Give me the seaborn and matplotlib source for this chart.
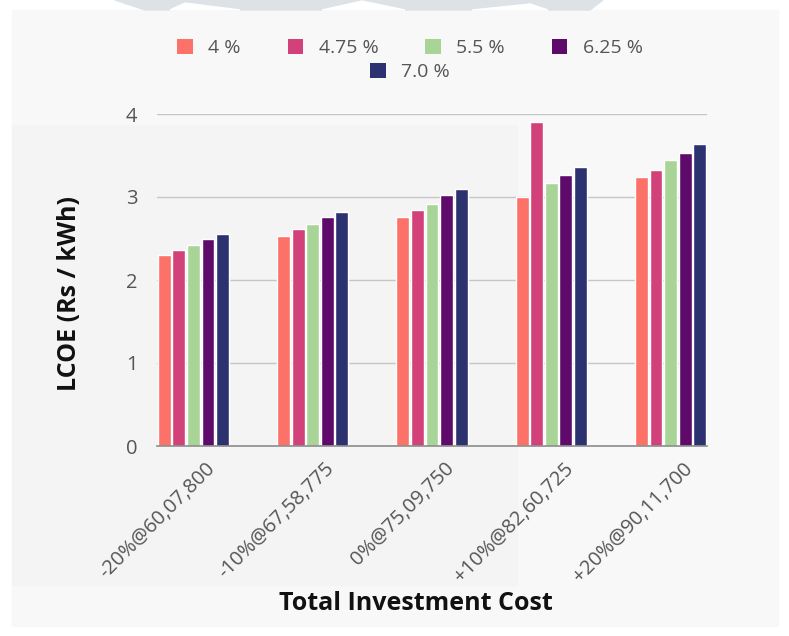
import numpy as np
import pandas as pd
import matplotlib
matplotlib.use("Agg")
import matplotlib.pyplot as plt
import matplotlib.transforms as mtransforms
from matplotlib.patches import Patch, Rectangle, Polygon
import seaborn as sns

# Investment-cost scenarios and the discount rates compared in each
categories = ["-20%@60,07,800", "-10%@67,58,775", "0%@75,09,750",
              "+10%@82,60,725", "+20%@90,11,700"]
rates = ["4 %", "4.75 %", "5.5 %", "6.25 %", "7.0 %"]

# LCOE (Rs / kWh) per scenario for each discount rate
lcoe_4_00 = [2.30, 2.53, 2.76, 3.00, 3.24]
lcoe_4_75 = [2.36, 2.61, 2.84, 3.90, 3.33]
lcoe_5_50 = [2.42, 2.68, 2.92, 3.17, 3.44]
lcoe_6_25 = [2.49, 2.76, 3.02, 3.27, 3.53]
lcoe_7_00 = [2.56, 2.82, 3.10, 3.36, 3.64]

y_ticks = [0, 1, 2, 3, 4]

colors = ["#FC7269", "#D2417A", "#A8D597", "#5E0A6B", "#2C3170"]

series = [lcoe_4_00, lcoe_4_75, lcoe_5_50, lcoe_6_25, lcoe_7_00]
df = pd.DataFrame({
    "scenario": np.tile(categories, len(rates)),
    "rate": np.repeat(rates, len(categories)),
    "lcoe": np.concatenate(series),
})

sns.set_theme(style="white")
plt.rcParams["font.family"] = ["Open Sans", "DejaVu Sans"]

W, H = 789, 636
fig = plt.figure(figsize=(W / 100, H / 100), dpi=100, facecolor="white")


def fig_xy(points):
    return [(x / W, 1 - y / H) for x, y in points]


# card background, shaded inner panel and the strip along the top edge
fig.patches.append(Rectangle((12 / W, 1 - 626 / H), 766 / W, 616 / H,
                             transform=fig.transFigure, color="#F8F8F8", zorder=-20))
fig.patches.append(Rectangle((12 / W, 1 - 585 / H), 505 / W, 460 / H,
                             transform=fig.transFigure, color="#F4F4F4", zorder=-19))
fig.patches.append(Polygon(fig_xy([(115, 0), (603, 0), (590, 10), (145, 10)]),
                           closed=True, transform=fig.transFigure,
                           color="#DDE2E6", zorder=-18))
for pts in ([(170, 10), (240, 10), (185, 3)],
            [(322, 10), (405, 10), (362, 1)],
            [(472, 10), (548, 10), (530, 4)]):
    fig.patches.append(Polygon(fig_xy(pts), closed=True,
                               transform=fig.transFigure, color="white", zorder=-17))

ax = fig.add_axes([157 / W, 1 - 446 / H, 550 / W, 332 / H])
ax.patch.set_alpha(0)

sns.barplot(data=df, x="scenario", y="lcoe", hue="rate", hue_order=rates,
            order=categories, palette=colors, saturation=1, width=0.61, gap=0.12,
            errorbar=None, legend=False, ax=ax)

ax.set_xlim(-0.305, len(categories) - 1 + 0.305)
ax.set_ylim(0, 4)
ax.set_yticks(y_ticks)
ax.set_yticklabels([str(t) for t in y_ticks], fontsize=14.5, color="#555555")
ax.yaxis.grid(True, color="#C6C6C6", linewidth=1)
ax.set_axisbelow(True)
for s in ["top", "right", "left"]:
    ax.spines[s].set_visible(False)
ax.spines["bottom"].set_color("#8C8C8C")
ax.spines["bottom"].set_linewidth(1.2)
ax.tick_params(axis="both", length=0)
ax.tick_params(axis="y", pad=14)
ax.tick_params(axis="x", pad=9)
ax.set_xlabel("")
ax.set_ylabel("")

offset = mtransforms.ScaledTranslation(12 / 100, 0, fig.dpi_scale_trans)
ax.set_xticks(range(len(categories)))
ax.set_xticklabels(categories, rotation=45, ha="right", va="top",
                   rotation_mode="anchor", fontsize=14.5, color="#555555")
for lab in ax.get_xticklabels():
    lab.set_transform(lab.get_transform() + offset)

handles = [Patch(facecolor=c, edgecolor="none") for c in colors]
leg_kw = dict(frameon=False, fontsize=14, handlelength=0.8, handleheight=0.8,
              handletextpad=0.8, columnspacing=2.4, loc="center",
              labelcolor="#555555")
fig.legend(handles[:4], rates[:4], ncol=4,
           bbox_to_anchor=(410 / W, 1 - 48 / H), **leg_kw)
fig.legend(handles[4:], rates[4:], ncol=1,
           bbox_to_anchor=(410 / W, 1 - 72 / H), **leg_kw)

label_kw = dict(ha="center", va="center", fontsize=18, fontweight="bold",
                color="#111111", family=["Open Sans", "DejaVu Sans"])
fig.text(70 / W, 1 - 293 / H, "LCOE (Rs / kWh)", rotation=90, **label_kw)
fig.text(416 / W, 1 - 604 / H, "Total Investment Cost", **label_kw)

fig.savefig("out.png", dpi=100, facecolor="white")
